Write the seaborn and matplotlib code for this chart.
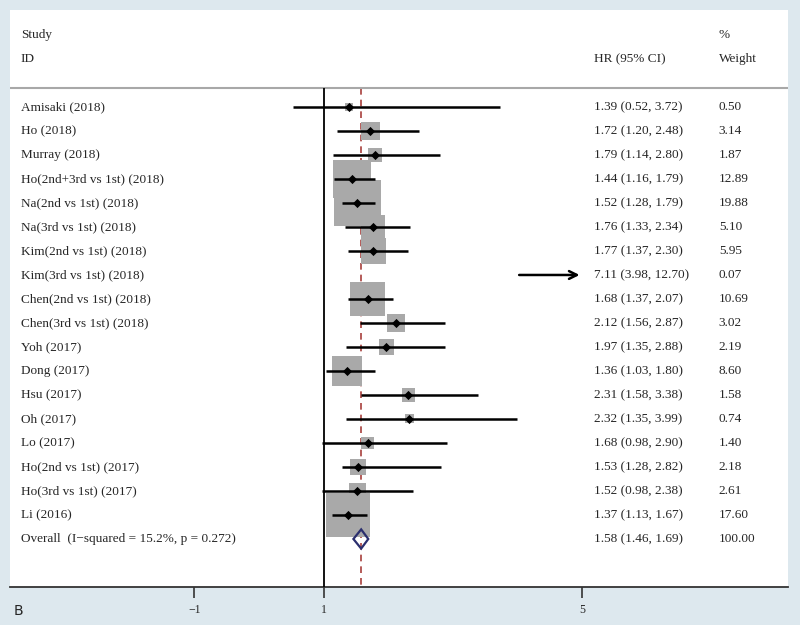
import numpy as np
import pandas as pd
import matplotlib
matplotlib.use("Agg")
import matplotlib.pyplot as plt
import matplotlib.transforms as mtransforms
from matplotlib.patches import Polygon
import seaborn as sns

# -----------------------------
# Data
# -----------------------------
studies = ["Amisaki (2018)", "Ho (2018)", "Murray (2018)", "Ho(2nd+3rd vs 1st) (2018)",
           "Na(2nd vs 1st) (2018)", "Na(3rd vs 1st) (2018)", "Kim(2nd vs 1st) (2018)",
           "Kim(3rd vs 1st) (2018)", "Chen(2nd vs 1st) (2018)", "Chen(3rd vs 1st) (2018)",
           "Yoh (2017)", "Dong (2017)", "Hsu (2017)", "Oh (2017)", "Lo (2017)",
           "Ho(2nd vs 1st) (2017)", "Ho(3rd vs 1st) (2017)", "Li (2016)"]
hr = [1.39, 1.72, 1.79, 1.44, 1.52, 1.76, 1.77, 7.11, 1.68, 2.12,
      1.97, 1.36, 2.31, 2.32, 1.68, 1.53, 1.52, 1.37]
ci_low = [0.52, 1.20, 1.14, 1.16, 1.28, 1.33, 1.37, 3.98, 1.37, 1.56,
          1.35, 1.03, 1.58, 1.35, 0.98, 1.28, 0.98, 1.13]
ci_high = [3.72, 2.48, 2.80, 1.79, 1.79, 2.34, 2.30, 12.70, 2.07, 2.87,
           2.88, 1.80, 3.38, 3.99, 2.90, 2.82, 2.38, 1.67]
weights = [0.50, 3.14, 1.87, 12.89, 19.88, 5.10, 5.95, 0.07, 10.69, 3.02,
           2.19, 8.60, 1.58, 0.74, 1.40, 2.18, 2.61, 17.60]

overall_label = "Overall  (I\u2212squared = 15.2%, p = 0.272)"
overall_hr, overall_low, overall_high, overall_weight = 1.58, 1.46, 1.69, 100.00

xticks = [-1, 1, 5]
x_clip = 5  # CIs are cut at the last axis label

df = pd.DataFrame({"study": studies, "hr": hr, "lo": ci_low, "hi": ci_high, "w": weights})
df["row"] = np.arange(len(df))
overall_row = len(df)

# -----------------------------
# Style
# -----------------------------
sns.set_theme(style="white")
plt.rcParams["font.family"] = ["Liberation Serif", "DejaVu Serif"]

fig = plt.figure(figsize=(8, 6.25), dpi=100, facecolor="#dde8ee")
ax = fig.add_axes([0.0125, 0.0608, 0.9725, 0.9232])
ax.set_facecolor("white")
ax.set_xlim(-3.85, 8.18)
ax.set_ylim(20.0, -4.04)

header_row = -0.79
red = "#a8403c"

# reference lines
ax.vlines(1, header_row, 20.0, color="black", lw=1.3, zorder=3)
ax.vlines(overall_hr, header_row, 20.0, color=red, lw=1.2, ls=(0, (4, 3)), zorder=1)
ax.hlines(header_row, -3.85, 8.18, color="#a8a8a8", lw=1.5, zorder=1)

# weight boxes (area ~ weight)
shown = df[df["hr"] <= x_clip]
ax.scatter(shown["hr"], shown["row"], s=57 * shown["w"], marker="s",
           color="#a9a9a9", linewidths=0, zorder=2)

# confidence intervals
for _, r in df.iterrows():
    hi = min(r["hi"], x_clip)
    if r["hi"] > x_clip:
        ax.annotate("", xy=(hi, r["row"]), xytext=(r["lo"], r["row"]),
                    arrowprops=dict(arrowstyle="->", color="black", lw=1.8,
                                    mutation_scale=14), zorder=3)
    else:
        ax.hlines(r["row"], r["lo"], hi, color="black", lw=1.8, zorder=3)

sns.scatterplot(data=shown, x="hr", y="row", marker="D", s=22, color="black",
                linewidth=0, zorder=4, ax=ax, legend=False)

# overall diamond
ax.add_patch(Polygon([(overall_low, overall_row), (overall_hr, overall_row - 0.4),
                      (overall_high, overall_row), (overall_hr, overall_row + 0.4)],
                     closed=True, fill=False, edgecolor="#2b2f6e", lw=1.6, zorder=5))

# axes cosmetics
for side in ["top", "right", "left"]:
    ax.spines[side].set_visible(False)
ax.spines["bottom"].set_color("#333333")
ax.spines["bottom"].set_linewidth(1.3)
ax.set_xticks(xticks)
ax.set_xticklabels([str(t).replace("-", "\u2212") for t in xticks], fontsize=8.5)
ax.tick_params(axis="x", bottom=True, direction="out", length=8, width=1.2,
               color="#333333", pad=4)
ax.set_yticks([])
ax.set_xlabel("")
ax.set_ylabel("")

# -----------------------------
# Text columns
# -----------------------------
trans = mtransforms.blended_transform_factory(ax.transAxes, ax.transData)
fs = 9.5
col_study, col_hr, col_w = 0.0141, 0.7506, 0.911

ax.text(col_study, -3, "Study", transform=trans, fontsize=fs, va="center")
ax.text(col_study, -2, "ID", transform=trans, fontsize=fs, va="center")
ax.text(col_hr, -2, "HR (95% CI)", transform=trans, fontsize=fs, va="center")
ax.text(col_w, -3, "%", transform=trans, fontsize=fs, va="center")
ax.text(col_w, -2, "Weight", transform=trans, fontsize=fs, va="center")

for _, r in df.iterrows():
    ax.text(col_study, r["row"], r["study"], transform=trans, fontsize=fs, va="center")
    ax.text(col_hr, r["row"], f"{r['hr']:.2f} ({r['lo']:.2f}, {r['hi']:.2f})",
            transform=trans, fontsize=fs, va="center")
    ax.text(col_w, r["row"], f"{r['w']:.2f}", transform=trans, fontsize=fs, va="center")

ax.text(col_study, overall_row, overall_label, transform=trans, fontsize=fs, va="center")
ax.text(col_hr, overall_row, f"{overall_hr:.2f} ({overall_low:.2f}, {overall_high:.2f})",
        transform=trans, fontsize=fs, va="center")
ax.text(col_w, overall_row, f"{overall_weight:.2f}", transform=trans, fontsize=fs, va="center")

fig.text(0.0175, 0.0224, "B", fontsize=10, va="center", family="DejaVu Sans")

fig.savefig("out.png", dpi=100, facecolor=fig.get_facecolor())
